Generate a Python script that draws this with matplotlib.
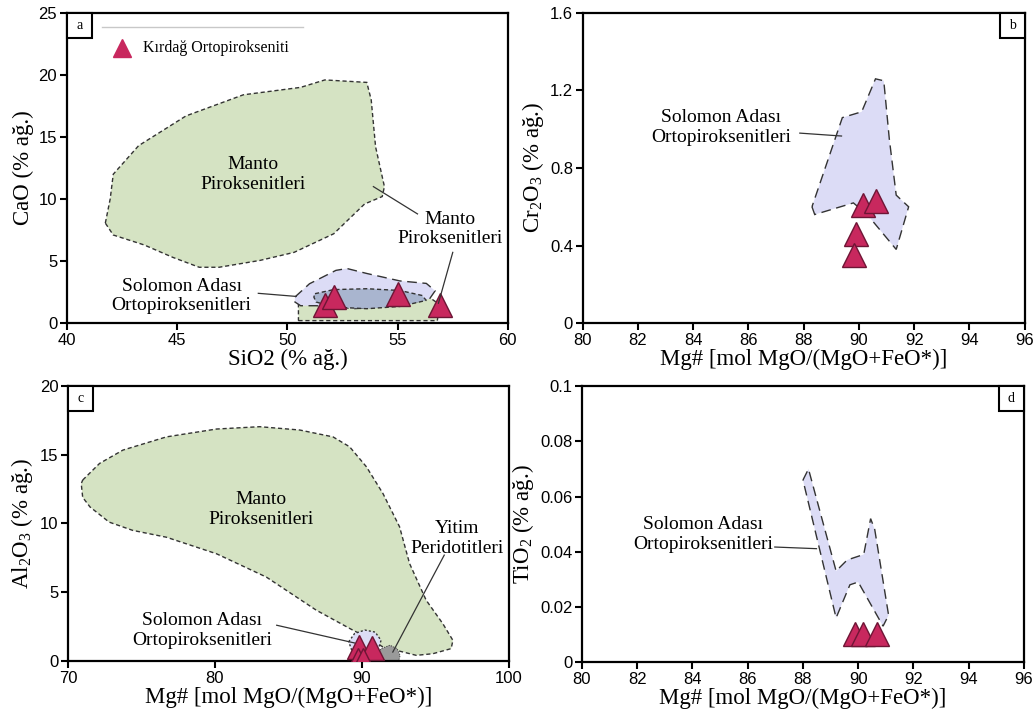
import numpy as np
import matplotlib.pyplot as plt
from matplotlib.patches import Polygon, Rectangle

plt.rcParams['font.family'] = 'Liberation Sans'
plt.rcParams['mathtext.fontset'] = 'custom'
plt.rcParams['mathtext.rm'] = 'Liberation Serif'
plt.rcParams['mathtext.it'] = 'Liberation Serif:italic'

SERIF = 'Liberation Serif'
GREEN = '#d5e3c3'
BLUE = '#dcdcf6'
BLUEGRAY = '#a9b5cf'
GRAY = '#9a9a9a'
TRI = '#c8285e'
TRI_EDGE = '#6e1535'

# ---- panel a: CaO vs SiO2 ----
a_mantle_x = [41.74, 41.96, 42.1, 43.25, 45.4, 48.0, 50.6, 51.7, 53.6, 53.8, 54.0, 54.4,
              54.3, 53.5, 52.1, 50.3, 48.75, 46.9, 46.0, 44.8, 43.5, 42.1]
a_mantle_y = [8.06, 10.0, 12.0, 14.3, 16.7, 18.4, 19.0, 19.6, 19.4, 18.0, 14.2, 11.0,
              10.2, 9.6, 7.2, 5.7, 5.05, 4.5, 4.5, 5.3, 6.3, 7.1]
a_mantle2_x = [50.5, 56.8, 56.9, 56.5, 51.0, 50.5]
a_mantle2_y = [0.2, 0.2, 1.5, 2.0, 2.0, 1.5]
a_solomon_x = [50.34, 51.0, 52.2, 52.7, 53.6, 55.1, 56.3, 56.7, 56.45, 55.5, 54.3, 53.0,
               52.1, 51.3, 50.6, 50.34]
a_solomon_y = [2.1, 3.17, 4.25, 4.4, 4.0, 3.4, 3.2, 2.6, 1.96, 1.56, 1.3, 1.16,
               1.34, 1.4, 1.4, 1.7]
a_inner_x = [51.25, 52.1, 53.6, 55.1, 56.1, 56.3, 55.1, 53.6, 52.1, 51.3, 51.2]
a_inner_y = [2.37, 2.7, 2.77, 2.63, 2.23, 1.83, 1.34, 1.16, 1.29, 1.7, 2.1]
a_sio2 = [51.7, 52.1, 55.0, 56.9]
a_cao = [1.42, 2.1, 2.37, 1.42]

# ---- panel b: Cr2O3 vs Mg# ----
b_solomon_x = [88.3, 88.4, 89.8, 90.3, 91.35, 91.8, 91.35, 91.1, 90.9, 90.6, 90.1, 89.4]
b_solomon_y = [0.60, 0.56, 0.62, 0.56, 0.38, 0.60, 0.66, 0.95, 1.25, 1.26, 1.09, 1.06]
b_mg = [90.15, 90.63, 89.89, 89.83]
b_cr = [0.61, 0.63, 0.46, 0.35]

# ---- panel c: Al2O3 vs Mg# ----
c_mantle_x = [71.0, 72.15, 73.74, 76.7, 80.1, 83.04, 85.76, 88.03, 89.16, 90.3, 91.43, 92.56,
              93.24, 94.37, 95.5, 96.19, 96.07, 94.83, 93.7, 91.43, 90.3, 89.4, 86.9, 83.5,
              80.1, 76.7, 74.4, 72.8, 71.5, 71.0, 70.9]
c_mantle_y = [13.16, 14.37, 15.34, 16.3, 16.87, 17.04, 16.8, 16.3, 15.58, 14.13, 12.18, 9.76,
              7.09, 4.42, 2.72, 1.5, 0.9, 0.53, 0.41, 1.02, 1.75, 2.23, 3.69, 6.1,
              7.8, 9.0, 9.5, 10.1, 11.2, 11.9, 12.9]
c_solomon_x = [89.1, 89.5, 90.2, 90.9, 91.3, 91.1, 90.2, 89.3]
c_solomon_y = [1.4, 2.0, 2.25, 2.1, 1.5, 0.8, 0.5, 0.8]
c_subd_x = [91.0, 91.3, 91.9, 92.4, 92.6, 92.5, 91.2]
c_subd_y = [0.3, 0.9, 1.15, 0.9, 0.4, 0.0, 0.0]
c_mg = [89.8, 90.7, 89.7, 90.1]
c_al = [1.0, 0.95, 0.1, 0.1]

# ---- panel d: TiO2 vs Mg# ----
d_solomon_x = [88.0, 88.2, 89.2, 89.6, 90.2, 90.45, 90.6, 91.1, 90.9, 90.0, 89.7, 89.2]
d_solomon_y = [0.066, 0.070, 0.033, 0.037, 0.039, 0.052, 0.048, 0.017, 0.013, 0.029, 0.028, 0.016]
d_mg = [89.88, 90.18, 90.69]
d_ti = [0.010, 0.010, 0.010]


def field(ax, x, y, fc, ls, z=1, lw=1.0):
    ax.add_patch(Polygon(np.column_stack([x, y]), closed=True, facecolor=fc,
                         edgecolor='#333333', linestyle=ls, linewidth=lw, zorder=z))


def note(ax, x, y, s, size=14):
    ax.text(x, y, s, family=SERIF, fontsize=size, ha='center', va='center',
            linespacing=1.2, zorder=6)


def leader(ax, x0, y0, x1, y1):
    ax.plot([x0, x1], [y0, y1], color='#333333', lw=0.9, zorder=6)


def tag(ax, s, left=True):
    w, h = 25 / 441, 25 / (ax.bbox.height)
    x0 = 0 if left else 1 - w
    ax.add_patch(Rectangle((x0, 1 - h), w, h, transform=ax.transAxes, facecolor='white',
                           edgecolor='black', lw=1.5, zorder=7, clip_on=False))
    ax.text(x0 + w / 2, 1 - h / 2, s, transform=ax.transAxes, family=SERIF, fontsize=10,
            ha='center', va='center', zorder=8)


def style(ax, xlim, ylim, xt, yt, xlabel, ylabel):
    ax.set_xlim(xlim)
    ax.set_ylim(ylim)
    ax.set_xticks(xt)
    ax.set_yticks(yt)
    for sp in ax.spines.values():
        sp.set_linewidth(1.6)
    ax.tick_params(direction='out', length=5, width=1.5, labelsize=12, pad=2)
    ax.set_xlabel(xlabel, family=SERIF, fontsize=16.5, labelpad=1)
    ax.set_ylabel(ylabel, family=SERIF, fontsize=16.5, labelpad=3)


def tri(ax, x, y, ms=17):
    ax.plot(x, y, '^', ms=ms, mfc=TRI, mec=TRI_EDGE, mew=1.0, ls='none', zorder=5)


fig = plt.figure(figsize=(10.35, 7.18), dpi=100)
ax_a = fig.add_axes([0.0647, 0.550, 0.426, 0.432])
ax_b = fig.add_axes([0.563, 0.550, 0.427, 0.432])
ax_c = fig.add_axes([0.0657, 0.0794, 0.426, 0.383])
ax_d = fig.add_axes([0.5623, 0.078, 0.427, 0.384])

# a
field(ax_a, a_mantle_x, a_mantle_y, GREEN, (0, (3, 2)))
field(ax_a, a_mantle2_x, a_mantle2_y, GREEN, (0, (3, 2)))
field(ax_a, a_solomon_x, a_solomon_y, BLUE, (0, (7, 4)), z=2)
field(ax_a, a_inner_x, a_inner_y, BLUEGRAY, (0, (3, 2)), z=3)
tri(ax_a, a_sio2, a_cao)
note(ax_a, 48.45, 12.0, 'Manto\nPiroksenitleri')
note(ax_a, 57.36, 7.6, 'Manto\nPiroksenitleri')
leader(ax_a, 53.9, 11.0, 55.9, 8.8)
leader(ax_a, 57.5, 5.7, 56.85, 1.6)
note(ax_a, 45.2, 2.2, 'Solomon Adası\nOrtopiroksenitleri')
leader(ax_a, 48.68, 2.4, 50.4, 2.15)
ax_a.plot([41.6, 50.7], [23.85, 23.85], color='#c8c8c8', lw=1.0)
ax_a.plot([42.5], [22.15], '^', ms=13, mfc=TRI, mec=TRI, ls='none')
ax_a.text(43.45, 22.15, 'Kırdağ Ortopirokseniti', family=SERIF, fontsize=11.5, va='center')
style(ax_a, (40, 60), (0, 25), [40, 45, 50, 55, 60], [0, 5, 10, 15, 20, 25],
      'SiO2 (% ağ.)', 'CaO (% ağ.)')
tag(ax_a, 'a')

# b
field(ax_b, b_solomon_x, b_solomon_y, BLUE, (0, (7, 4)))
tri(ax_b, b_mg, b_cr)
note(ax_b, 85.0, 1.008, 'Solomon Adası\nOrtopiroksenitleri')
leader(ax_b, 87.86, 0.98, 89.37, 0.965)
style(ax_b, (80, 96), (0, 1.6), range(80, 97, 2), [0, 0.4, 0.8, 1.2, 1.6],
      'Mg# [mol MgO/(MgO+FeO*)]', r'Cr$_\mathregular{2}$O$_\mathregular{3}$ (% ağ.)')
ax_b.set_yticklabels(['0', '0.4', '0.8', '1.2', '1.6'])
tag(ax_b, 'b', left=False)

# c
field(ax_c, c_mantle_x, c_mantle_y, GREEN, (0, (3, 2)))
field(ax_c, c_solomon_x, c_solomon_y, BLUE, (0, (1.5, 1.5)), z=2)
field(ax_c, c_subd_x, c_subd_y, GRAY, (0, (1.5, 1.5)), z=2, lw=0.6)
tri(ax_c, c_mg, c_al)
note(ax_c, 83.15, 11.0, 'Manto\nPiroksenitleri')
note(ax_c, 96.5, 8.9, 'Yitim\nPeridotitleri')
leader(ax_c, 95.6, 7.7, 92.1, 0.65)
note(ax_c, 79.1, 2.2, 'Solomon Adası\nOrtopiroksenitleri')
leader(ax_c, 84.2, 2.6, 89.5, 1.31)
style(ax_c, (70, 100), (0, 20), [70, 80, 90, 100], [0, 5, 10, 15, 20],
      'Mg# [mol MgO/(MgO+FeO*)]', r'Al$_\mathregular{2}$O$_\mathregular{3}$ (% ağ.)')
tag(ax_c, 'c')

# d
field(ax_d, d_solomon_x, d_solomon_y, BLUE, (0, (7, 4)))
tri(ax_d, d_mg, d_ti)
note(ax_d, 84.38, 0.0463, 'Solomon Adası\nOrtopiroksenitleri')
leader(ax_d, 86.98, 0.0417, 88.49, 0.0411)
style(ax_d, (80, 96), (0, 0.1), range(80, 97, 2), [0, 0.02, 0.04, 0.06, 0.08, 0.1],
      'Mg# [mol MgO/(MgO+FeO*)]', r'TiO$_\mathregular{2}$ (% ağ.)')
ax_d.set_yticklabels(['0', '0.02', '0.04', '0.06', '0.08', '0.1'])
tag(ax_d, 'd', left=False)

fig.savefig('out.png', dpi=100)
